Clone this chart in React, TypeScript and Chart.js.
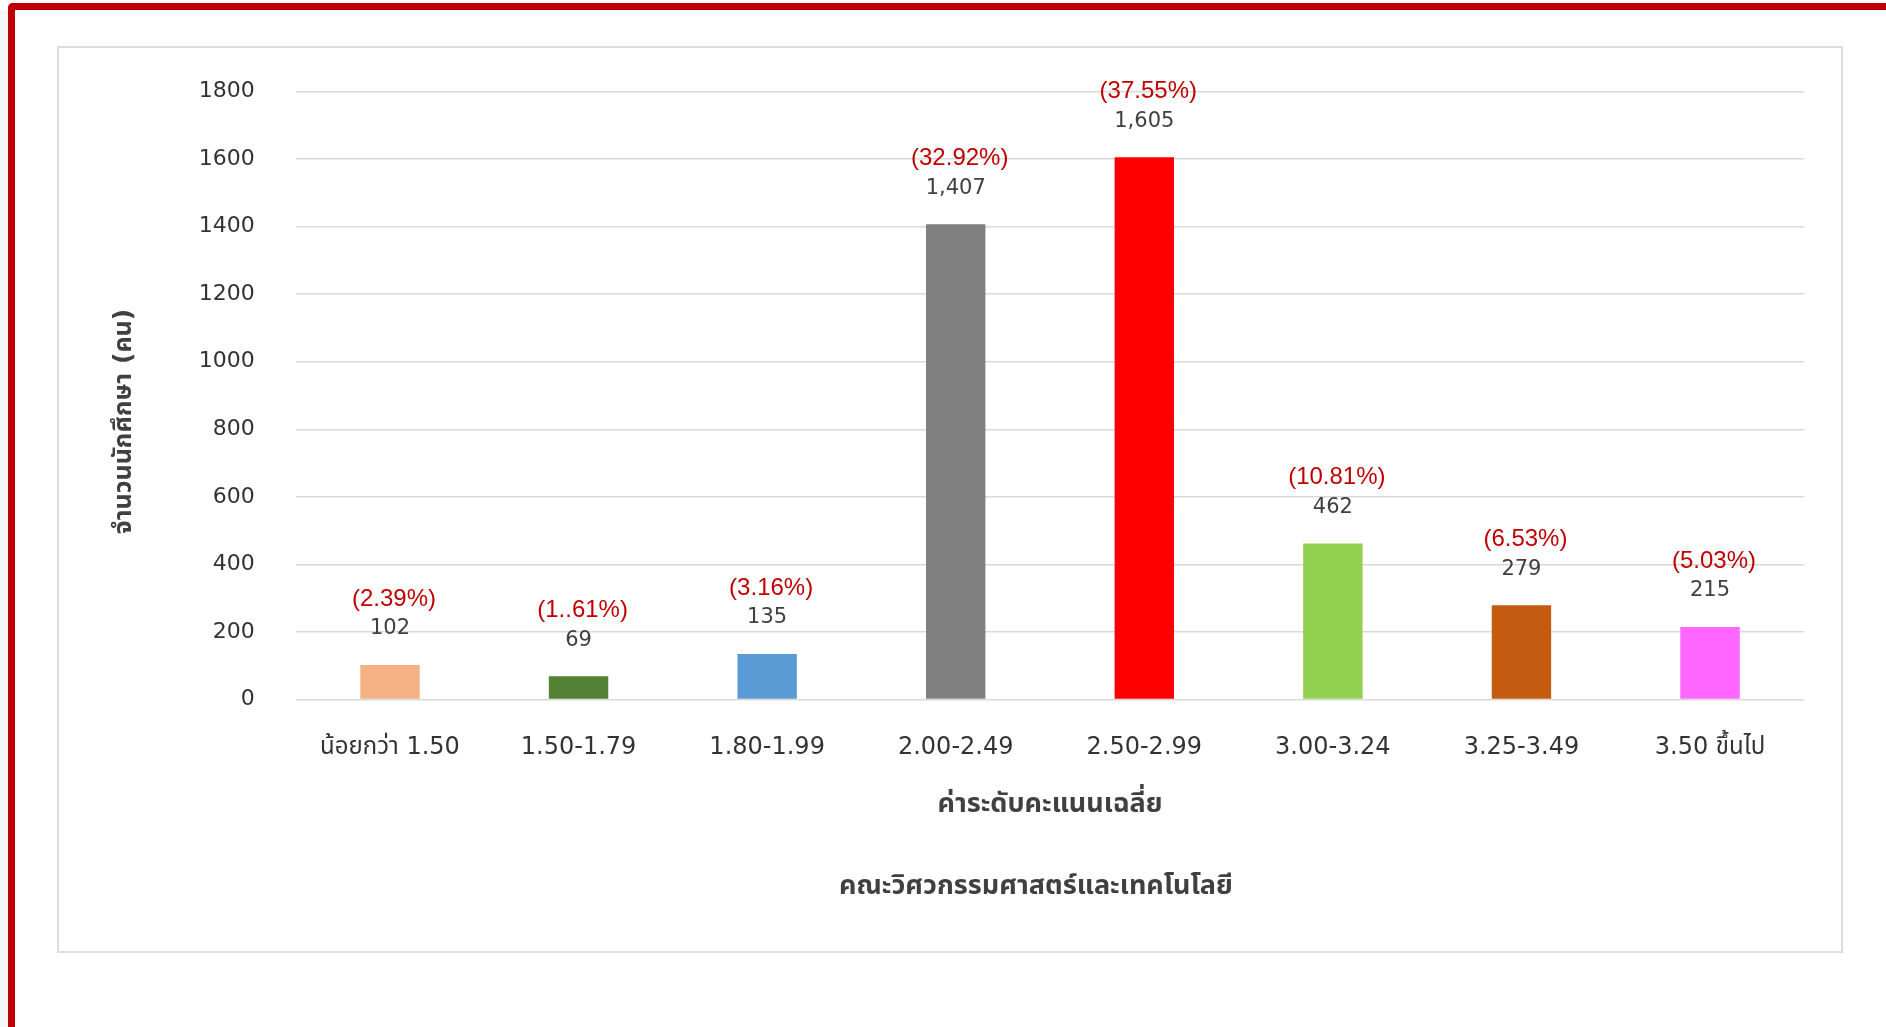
import React, { useEffect, useRef } from 'react';
import { Chart, registerables } from 'chart.js';

Chart.register(...registerables);

// ---------- data ----------
const categories = [
  'น้อยกว่า 1.50',
  '1.50-1.79',
  '1.80-1.99',
  '2.00-2.49',
  '2.50-2.99',
  '3.00-3.24',
  '3.25-3.49',
  '3.50 ขึ้นไป',
];
const studentCounts = [102, 69, 135, 1407, 1605, 462, 279, 215];
const percentLabels = [
  '(2.39%)',
  '(1..61%)',
  '(3.16%)',
  '(32.92%)',
  '(37.55%)',
  '(10.81%)',
  '(6.53%)',
  '(5.03%)',
];
const barColors = [
  '#F4B183',
  '#548235',
  '#5B9BD5',
  '#808080',
  '#FF0000',
  '#92D050',
  '#C55A11',
  '#FF66FF',
];
const yMin = 0;
const yMax = 1800;
const yStep = 200;
const xAxisTitle = 'ค่าระดับคะแนนเฉลี่ย';
const facultyTitle = 'คณะวิศวกรรมศาสตร์และเทคโนโลยี';
const yAxisTitle = 'จำนวนนักศึกษา (คน)';

const THAI_FONT = '"DejaVu Sans", "Noto Sans Thai", "Noto Sans Thai UI", "Noto Sans", sans-serif';

const barLabelPlugin = {
  id: 'barLabels',
  afterDatasetsDraw(chart: any) {
    const ctx = chart.ctx;
    const meta = chart.getDatasetMeta(0);
    ctx.save();
    ctx.textAlign = 'center';
    ctx.textBaseline = 'middle';
    meta.data.forEach((bar: any, i: number) => {
      const { x, y } = bar.getProps(['x', 'y'], true);
      ctx.font = '21px "DejaVu Sans"';
      ctx.fillStyle = '#404040';
      ctx.fillText(studentCounts[i].toLocaleString('en-US'), x, y - 36);
      ctx.font = '24px "Liberation Sans"';
      ctx.fillStyle = '#C00000';
      ctx.fillText(percentLabels[i], x + 4, y - 66);
    });
    ctx.restore();
  },
};

export default function App() {
  const canvasRef = useRef<HTMLCanvasElement | null>(null);

  useEffect(() => {
    const canvas = canvasRef.current;
    if (!canvas) return;
    const chart = new Chart(canvas, {
      type: 'bar',
      data: {
        labels: categories,
        datasets: [
          {
            data: studentCounts,
            backgroundColor: barColors,
            borderWidth: 0,
            categoryPercentage: 1,
            barPercentage: 0.315,
          },
        ],
      },
      plugins: [barLabelPlugin],
      options: {
        animation: false,
        responsive: false,
        devicePixelRatio: 1,
        layout: { padding: { top: 43.5, right: 36.7, bottom: 0, left: 0 } },
        plugins: {
          legend: { display: false },
          tooltip: { enabled: false },
          title: { display: false },
        },
        scales: {
          x: {
            grid: { display: false, drawTicks: false },
            border: { display: false },
            ticks: {
              padding: 34,
              color: '#333333',
              font: { family: THAI_FONT, size: 24 },
              maxRotation: 0,
              autoSkip: false,
            },
            title: {
              display: true,
              text: [xAxisTitle, '', facultyTitle + '   '],
              color: '#404040',
              font: { family: THAI_FONT, size: 27, weight: 'bold', lineHeight: '41px' },
              padding: { top: 0, bottom: 43.8 },
            },
            afterFit: (scale: any) => {
              scale.height = 251.5;
            },
          },
          y: {
            min: yMin,
            max: yMax,
            grid: { color: '#D9D9D9', lineWidth: 1.5, drawTicks: false },
            border: { display: false },
            ticks: {
              stepSize: yStep,
              padding: 41,
              color: '#333333',
              font: { family: '"DejaVu Sans"', size: 22 },
              callback: (value: any) => String(value),
            },
            title: {
              display: true,
              text: yAxisTitle + '      ',
              color: '#404040',
              font: { family: THAI_FONT, size: 25, weight: 'bold', lineHeight: 1.2 },
              padding: { top: 50, bottom: 0 },
            },
            afterFit: (scale: any) => {
              scale.width = 236.7;
              scale.paddingTop = 0;
              scale.paddingBottom = 0;
            },
          },
        },
      },
    });
    return () => chart.destroy();
  }, []);

  return (
    <div
      style={{
        position: 'fixed',
        left: 0,
        top: 0,
        width: 1886,
        height: 1027,
        background: '#FFFFFF',
        overflow: 'hidden',
      }}
    >
      <div
        style={{
          position: 'absolute',
          left: 0,
          top: 10,
          width: 8,
          height: 1017,
          background: '#F6F6F6',
        }}
      />
      <div
        style={{
          position: 'absolute',
          left: 8,
          top: 3,
          width: 1900,
          height: 1100,
          borderLeft: '7px solid #C00000',
          borderTop: '7px solid #C00000',
          borderTopLeftRadius: 5,
          boxSizing: 'border-box',
        }}
      />
      <div
        style={{
          position: 'absolute',
          left: 57,
          top: 46,
          width: 1786,
          height: 907,
          border: '2px solid #DDDDDD',
          boxSizing: 'border-box',
          background: '#FFFFFF',
        }}
      />
      <canvas
        ref={canvasRef}
        width={1782}
        height={903}
        style={{ position: 'absolute', left: 59, top: 48, width: 1782, height: 903 }}
      />
    </div>
  );
}
